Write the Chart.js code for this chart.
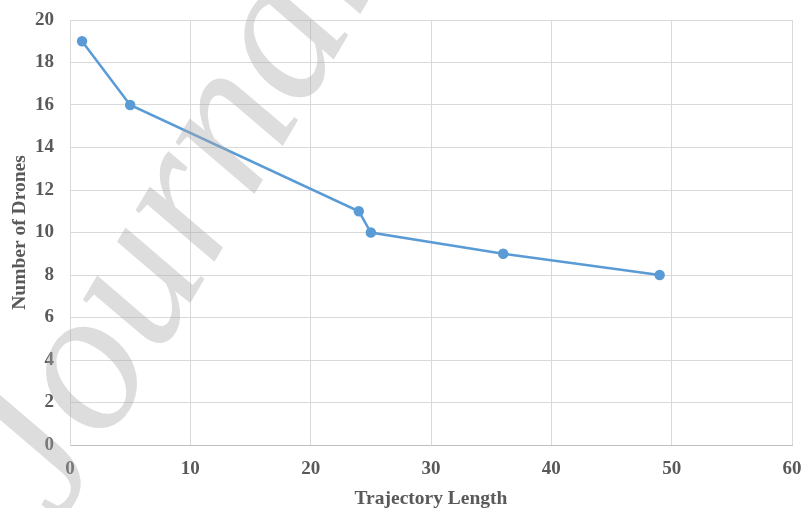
<!DOCTYPE html>
<html>
<head>
<meta charset="utf-8">
<script src="https://cdn.jsdelivr.net/npm/chart.js@4"></script>
<style>
  html, body { margin: 0; padding: 0; background: #fff; }
  #wrap { width: 803px; height: 508px; }
</style>
</head>
<body>
<div id="wrap"><canvas id="chart" width="803" height="508"></canvas></div>
<script>
const trajectoryLength = [1, 5, 24, 25, 36, 49];
const numberOfDrones = [19, 16, 11, 10, 9, 8];
const xTicks = [0, 10, 20, 30, 40, 50, 60];
const yTicks = [0, 2, 4, 6, 8, 10, 12, 14, 16, 18, 20];

// faint diagonal "Journal Pre-proof" stamp over the figure
const watermark = {
  id: 'watermark',
  afterDraw(chart) {
    const ctx = chart.ctx;
    ctx.save();
    ctx.translate(60, 524);
    ctx.rotate(-59.5 * Math.PI / 180);
    ctx.font = 'italic 205px "Liberation Serif"';
    ctx.fillStyle = 'rgba(170,170,170,0.4)';
    ctx.fillText('Journal Pre-proof', 0, 0);
    ctx.restore();
  }
};

const textColor = '#595959';
const tickFont = { family: '"Liberation Serif"', size: 19, weight: 'bold' };
const titleFont = { family: '"Liberation Serif"', size: 19.5, weight: 'bold' };

new Chart(document.getElementById('chart').getContext('2d'), {
  type: 'scatter',
  data: {
    datasets: [{
      label: 'Number of Drones',
      data: trajectoryLength.map((x, i) => ({ x: x, y: numberOfDrones[i] })),
      showLine: true,
      borderColor: '#5b9bd5',
      backgroundColor: '#5b9bd5',
      borderWidth: 2.5,
      pointRadius: 4,
      pointHoverRadius: 4
    }]
  },
  options: {
    responsive: false,
    animation: false,
    layout: { padding: { top: 20, right: 11, left: 8, bottom: 0 } },
    plugins: { legend: { display: false }, tooltip: { enabled: false } },
    scales: {
      x: {
        type: 'linear',
        min: 0,
        max: 60,
        afterBuildTicks: (axis) => { axis.ticks = xTicks.map(v => ({ value: v })); },
        afterFit: (axis) => { axis.height = 63; axis.paddingLeft = 0; axis.paddingRight = 0; },
        ticks: { color: textColor, font: tickFont, padding: 13 },
        grid: { color: '#d9d9d9', lineWidth: 1, drawTicks: false },
        border: { color: '#bfbfbf', width: 1 },
        title: { display: true, text: 'Trajectory Length', color: textColor, font: titleFont, padding: { top: 0, bottom: -3 } }
      },
      y: {
        type: 'linear',
        min: 0,
        max: 20,
        afterBuildTicks: (axis) => { axis.ticks = yTicks.map(v => ({ value: v })); },
        afterFit: (axis) => { axis.width = 62; axis.paddingTop = 0; axis.paddingBottom = 0; },
        ticks: { color: textColor, font: tickFont, padding: 16 },
        grid: { color: '#d9d9d9', lineWidth: 1, drawTicks: false },
        border: { color: '#d9d9d9', width: 1 },
        title: { display: true, text: 'Number of Drones', color: textColor, font: titleFont, padding: { top: 0, bottom: 0 } }
      }
    }
  },
  plugins: [watermark]
});
</script>
</body>
</html>
